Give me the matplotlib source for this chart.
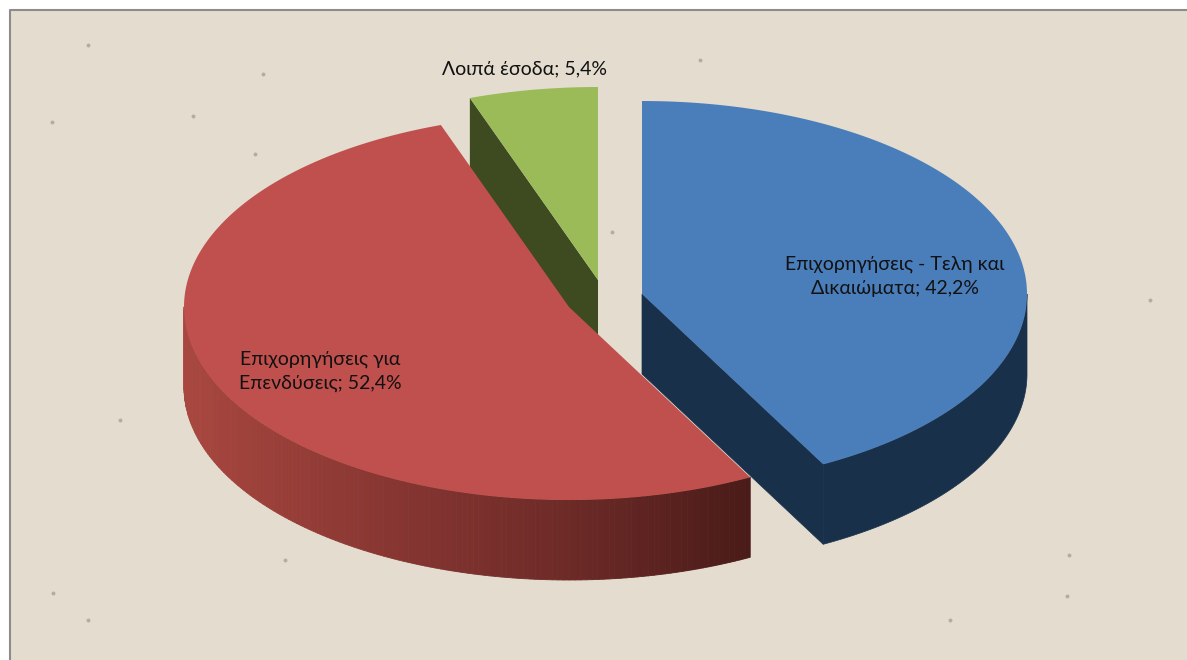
#!/usr/bin/env python3
import numpy as np
import matplotlib
matplotlib.use("Agg")
import matplotlib.pyplot as plt
from matplotlib.colors import LinearSegmentedColormap
from matplotlib.collections import PolyCollection
from matplotlib.patches import Polygon

# order is clockwise from 12 o'clock
names = ["Επιχορηγήσεις - Τελη και\nΔικαιώματα", "Επιχορηγήσεις για\nΕπενδύσεις", "Λοιπά έσοδα"]
shares = [42.2, 52.4, 5.4]

top_colors = ["#4a7ebb", "#c0504d", "#9bbb59"]
wall_colors = ["#19304b", None, "#3e4a20"]
red_wall = LinearSegmentedColormap.from_list("red_wall", ["#a8473f", "#8a3733", "#6e2b28", "#4a1b18"])

# darker flecks of the paper
speck_x = [88, 193, 255, 263, 52, 53, 88, 612, 1069, 1067, 285, 1150, 700, 120, 950]
speck_y = [45, 116, 154, 74, 122, 593, 620, 232, 555, 596, 560, 300, 60, 420, 620]

# pie geometry, in picture pixels
RX, RY = 385, 193
DEPTH = 80
centers = [(642, 294), (569, 307), (598, 280)]
label_pos = [(895, 276), (320, 371.5), (525, 69)]
FONT = ["Lato", "Noto Sans", "DejaVu Sans"]


def rim(center, ang):
    # ang in degrees, clockwise from the top of the ellipse
    rad = np.radians(ang)
    return center[0] + RX * np.sin(rad), center[1] - RY * np.cos(rad)


def arc(center, a0, a1, drop=0):
    angs = np.linspace(a0, a1, 200)
    x, y = rim(center, angs)
    return np.column_stack([x, y + drop])


def wall_quad(center, ang):
    ex, ey = rim(center, ang)
    cx, cy = center
    return [(cx, cy), (ex, ey), (ex, ey + DEPTH), (cx, cy + DEPTH)]


fig = plt.figure(figsize=(11.87, 6.60), dpi=100, facecolor="white")
ax = fig.add_axes([0, 0, 1, 1])
ax.set_xlim(0, 1187)
ax.set_ylim(660, 0)
ax.axis("off")

ax.fill([10, 1187, 1187, 10], [10, 10, 660, 660], color="#e3dccf", lw=0, zorder=0)
ax.scatter(speck_x, speck_y, s=8, color="#a09a8e", alpha=0.7, lw=0, zorder=0.2)
ax.plot([10, 10, 1187], [660, 10, 10], color="#8c8c8c", lw=1.5, zorder=0.5)

edges = np.cumsum([0] + shares) / sum(shares) * 360

# green slice sits behind the red one
c = centers[2]
ax.add_patch(Polygon(wall_quad(c, edges[2]), fc=wall_colors[2], ec="none", zorder=1))
ax.add_patch(Polygon(np.vstack([[c], arc(c, edges[2], edges[3])]), fc=top_colors[2], ec="none", zorder=2))

# blue slice: cut face, outer wall, top
c = centers[0]
ax.add_patch(Polygon(wall_quad(c, edges[1]), fc=wall_colors[0], ec=wall_colors[0], lw=0.5, zorder=3))
upper = arc(c, 90, edges[1])
lower = arc(c, edges[1], 90, drop=DEPTH)
ax.add_patch(Polygon(np.vstack([upper, lower]), fc=wall_colors[0], ec=wall_colors[0], lw=0.5, zorder=3))
ax.add_patch(Polygon(np.vstack([[c], arc(c, edges[0], edges[1])]), fc=top_colors[0], ec="none", zorder=4))

# red slice: outer wall with left to right shading, then top
c = centers[1]
strip_angs = np.linspace(edges[1], 270, 140)
x, y = rim(c, strip_angs)
quads = [[(x[i], y[i]), (x[i + 1], y[i + 1]), (x[i + 1], y[i + 1] + DEPTH), (x[i], y[i] + DEPTH)]
         for i in range(len(x) - 1)]
mid = (x[:-1] + x[1:]) / 2
shade = red_wall((mid - x.min()) / (x.max() - x.min()))
ax.add_collection(PolyCollection(quads, facecolors=shade, edgecolors=shade, linewidths=0.6, zorder=5))
ax.add_patch(Polygon(np.vstack([[c], arc(c, edges[1], edges[2])]), fc=top_colors[1], ec="none", zorder=6))

for name, share, pos in zip(names, shares, label_pos):
    txt = f"{name}; {share:.1f}%".replace(".", ",")
    ax.text(pos[0], pos[1], txt, ha="center", va="center", fontsize=14, color="#111111",
            family=FONT, linespacing=1.5, zorder=10)

fig.savefig("out.png", dpi=100, facecolor="white")
